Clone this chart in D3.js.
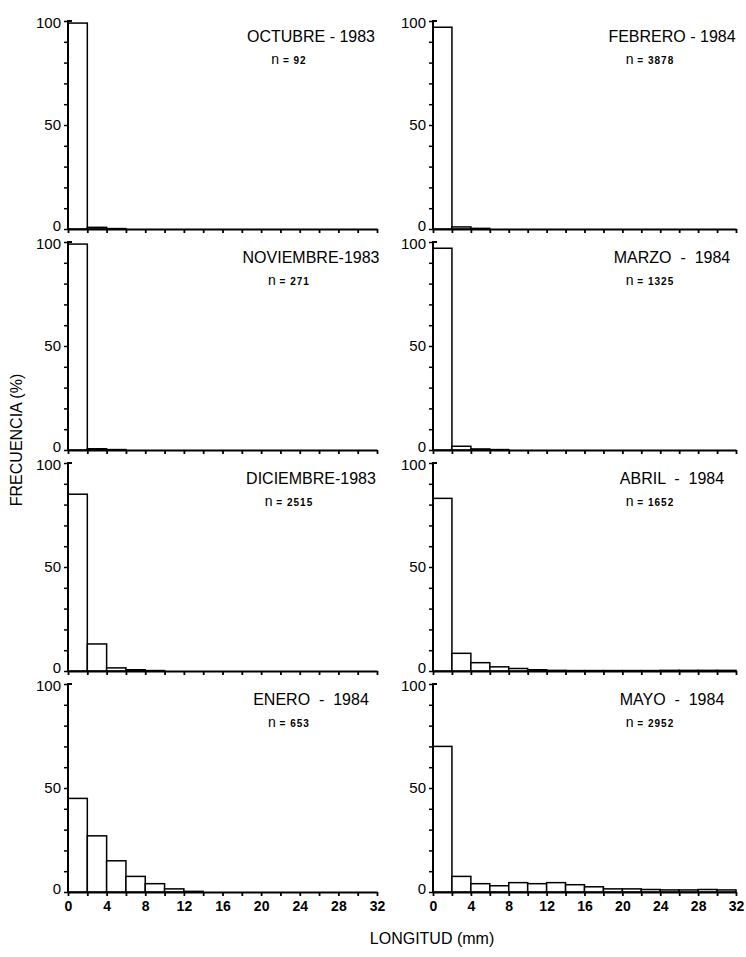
<!DOCTYPE html>
<html>
<head>
<meta charset="utf-8">
<script src="https://cdn.jsdelivr.net/npm/d3@7"></script>
<style>
  body { margin: 0; background: #fff; }
  svg { display: block; }
</style>
</head>
<body>
<div id="chart"></div>
<script>
// length classes: 2 mm bins from 0 to 32 mm
const binEdges = d3.range(0, 32, 2);

const octubre83   = [99, 0.8, 0.2, 0, 0, 0, 0, 0, 0, 0, 0, 0, 0, 0, 0, 0];
const noviembre83 = [99, 0.6, 0.2, 0, 0, 0, 0, 0, 0, 0, 0, 0, 0, 0, 0, 0];
const diciembre83 = [85, 13, 1.5, 0.6, 0.2, 0, 0, 0, 0, 0, 0, 0, 0, 0, 0, 0];
const enero84     = [45, 27, 15, 7.5, 4, 1.5, 0.3, 0, 0, 0, 0, 0, 0, 0, 0, 0];
const febrero84   = [97, 1, 0.3, 0, 0, 0, 0, 0, 0, 0, 0, 0, 0, 0, 0, 0];
const marzo84     = [97, 1.8, 0.5, 0.2, 0, 0, 0, 0, 0, 0, 0, 0, 0, 0, 0, 0];
const abril84     = [83, 8.5, 4, 2, 1.2, 0.6, 0.3, 0.2, 0.2, 0.2, 0.2, 0.2, 0.3, 0.3, 0.3, 0.3];
const mayo84      = [70, 7.5, 4, 3, 4.5, 4, 4.5, 3.5, 2.5, 1.5, 1.5, 1.2, 1, 1, 1.2, 1];

const panelTitles = ["OCTUBRE - 1983", "NOVIEMBRE-1983", "DICIEMBRE-1983", "ENERO  -  1984",
                     "FEBRERO - 1984", "MARZO  -  1984", "ABRIL  -  1984", "MAYO  -  1984"];
const panelN = ["92", "271", "2515", "653", "3878", "1325", "1652", "2952"];
const panelValues = [octubre83, noviembre83, diciembre83, enero84, febrero84, marzo84, abril84, mayo84];

const yTicks = d3.range(0, 101, 10);
const yLabels = [0, 50, 100];
const xTicks = d3.range(0, 33, 2);
const xLabels = d3.range(0, 33, 4);

let width = 746, height = 957;
let svg = d3.select("#chart").append("svg")
  .attr("width", width)
  .attr("height", height);

let colLeft = [68, 433];
let colWidth = [309, 303];
let rowTop = 21, rowStep = 221, panelH = 208;
let font = "'Liberation Sans', Arial, sans-serif";

panelValues.forEach((vals, idx) => {
  let col = Math.floor(idx / 4);
  let row = idx % 4;
  let x0 = colLeft[col];
  let top = rowTop + row * rowStep;

  let xScale = d3.scaleLinear().domain([0, 32]).range([x0, x0 + colWidth[col]]);
  let yScale = d3.scaleLinear().domain([0, 100]).range([top + panelH, top]);

  let g = svg.append("g");

  // bars
  g.selectAll("rect")
    .data(vals.map((v, i) => ({ x: binEdges[i], v: v })).filter(d => d.v > 0))
    .enter()
    .append("rect")
    .attr("x", d => xScale(d.x))
    .attr("y", d => yScale(d.v))
    .attr("width", d => xScale(d.x + 2) - xScale(d.x))
    .attr("height", d => yScale(0) - yScale(d.v))
    .attr("fill", "white")
    .attr("stroke", "black")
    .attr("stroke-width", 1.5);

  // y axis
  let yAxis = d3.axisLeft(yScale)
    .tickValues(yTicks)
    .tickSize(4)
    .tickPadding(3)
    .tickFormat(d => yLabels.includes(d) ? d : "");
  let ya = g.append("g")
    .attr("transform", `translate(${x0}, 0)`)
    .call(yAxis);
  ya.select(".domain").attr("stroke-width", 2).attr("d", `M0,${yScale(0)}V${yScale(100)}h4`);
  ya.selectAll(".tick line").attr("stroke-width", 1.5);
  ya.selectAll(".tick text")
    .style("font-size", "15px")
    .style("font-family", font)
    .attr("dy", d => d == 0 ? "0.1em" : d == 100 ? "0.45em" : "0.32em");

  // x axis
  let bottom = row == 3;
  let xAxis = d3.axisBottom(xScale)
    .tickValues(xTicks)
    .tickSize(4)
    .tickSizeOuter(0)
    .tickPadding(5)
    .tickFormat(d => (bottom && xLabels.includes(d)) ? d : "");
  let xa = g.append("g")
    .attr("transform", `translate(0, ${yScale(0)})`)
    .call(xAxis);
  xa.select(".domain").attr("stroke-width", 2.2);
  xa.selectAll(".tick line").attr("stroke-width", 1.8);
  xa.selectAll(".tick text")
    .style("font-size", "14px")
    .style("font-weight", "bold")
    .style("font-family", font);

  // title and n
  let cx = col == 0 ? 311 : 672;
  g.append("text")
    .attr("x", cx)
    .attr("y", top + 21)
    .attr("text-anchor", "middle")
    .style("font-family", font)
    .style("font-size", "16px")
    .style("white-space", "pre")
    .attr("xml:space", "preserve")
    .text(panelTitles[idx]);

  let nt = g.append("text")
    .attr("x", cx - 22)
    .attr("y", top + 43)
    .attr("text-anchor", "middle")
    .style("font-family", font);
  nt.append("tspan").style("font-size", "14px").text("n");
  nt.append("tspan").style("font-size", "10px").style("font-weight", "bold")
    .style("letter-spacing", "1px").text(" = " + panelN[idx]);
});

svg.append("text")
  .attr("transform", "translate(22, 440) rotate(-90)")
  .attr("text-anchor", "middle")
  .style("font-family", font)
  .style("font-size", "16px")
  .text("FRECUENCIA (%)");

svg.append("text")
  .attr("x", 432)
  .attr("y", 944)
  .attr("text-anchor", "middle")
  .style("font-family", font)
  .style("font-size", "16px")
  .text("LONGITUD (mm)");
</script>
</body>
</html>
